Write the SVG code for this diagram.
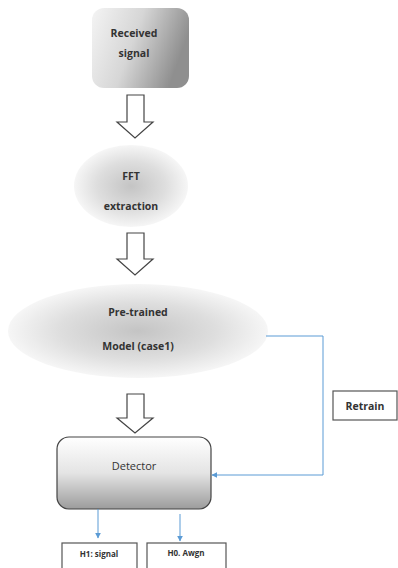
<svg xmlns="http://www.w3.org/2000/svg" width="398" height="568" viewBox="0 0 398 568">
<defs>
<linearGradient id="gRecv" x1="0" y1="0" x2="1" y2="0.3">
<stop offset="0" stop-color="#f4f4f4"/>
<stop offset="0.5" stop-color="#d6d6d6"/>
<stop offset="1" stop-color="#8f8f8f"/>
</linearGradient>
<radialGradient id="gEll" cx="0.5" cy="0.5" r="0.5">
<stop offset="0" stop-color="#c4c4c4"/>
<stop offset="0.6" stop-color="#dedede"/>
<stop offset="1" stop-color="#f6f6f6"/>
</radialGradient>
<linearGradient id="gDet" x1="0" y1="0" x2="0" y2="1">
<stop offset="0" stop-color="#ffffff"/>
<stop offset="0.5" stop-color="#e4e4e4"/>
<stop offset="1" stop-color="#9c9c9c"/>
</linearGradient>
<marker id="ah" viewBox="0 0 10 10" refX="9" refY="5" markerWidth="6" markerHeight="6" orient="auto" markerUnits="userSpaceOnUse">
<path d="M0,0 L10,5 L0,10 z" fill="#5b9bd5"/>
</marker>
</defs>
<style>
.t{font-family:"Open Sans","Noto Sans",sans-serif;font-size:10.5px;font-weight:bold;fill:#333;text-anchor:middle}
.tn{font-family:"Open Sans","Noto Sans",sans-serif;font-size:11px;fill:#333;text-anchor:middle}
.ts{font-family:"Open Sans","Noto Sans",sans-serif;font-size:8px;font-weight:bold;fill:#333;text-anchor:middle}
.blk{fill:#fff;stroke:#555;stroke-width:1.2}
.bigarrow{fill:#fff;stroke:#444;stroke-width:1.2}
.conn{fill:none;stroke:#5b9bd5;stroke-width:1}
</style>
<g id="received">
<rect x="92" y="8" width="97" height="80" rx="12" fill="url(#gRecv)"/>
<text class="t" x="134" y="37">Received</text>
<text class="t" x="134" y="57">signal</text>
</g>
<g id="arrow1">
<path class="bigarrow" d="M127,95 H144 V122 H153 L135,138 L117,122 H127 Z"/>
</g>
<g id="fft">
<ellipse cx="131" cy="186" rx="57" ry="41" fill="url(#gEll)"/>
<text class="t" x="131" y="180">FFT</text>
<text class="t" x="131" y="210">extraction</text>
</g>
<g id="arrow2">
<path class="bigarrow" d="M127,233 H144 V259 H153 L135,275 L117,259 H127 Z"/>
</g>
<g id="pretrained">
<ellipse cx="138" cy="331" rx="130" ry="47" fill="url(#gEll)"/>
<text class="t" x="138" y="316">Pre-trained</text>
<text class="t" x="138" y="350">Model (case1)</text>
</g>
<g id="arrow3">
<path class="bigarrow" d="M127,394 H144 V418 H153 L135,433 L117,418 H127 Z"/>
</g>
<g id="detector">
<rect x="57" y="437" width="154" height="72" rx="12" fill="url(#gDet)" stroke="#444" stroke-width="1.2"/>
<text class="tn" x="134" y="470">Detector</text>
</g>
<g id="retrain">
<rect class="blk" x="333" y="391" width="64" height="29"/>
<text class="t" x="365" y="410">Retrain</text>
</g>
<g id="h1">
<rect class="blk" x="62" y="543" width="75" height="30"/>
<text class="ts" x="99" y="557">H1: signal</text>
</g>
<g id="h0">
<rect class="blk" x="147" y="543" width="79" height="30"/>
<text class="ts" x="186" y="556">H0. Awgn</text>
</g>
<g id="connectors">
<path class="conn" d="M266,336 H323 V475 H212" marker-end="url(#ah)"/>
<path class="conn" d="M98,509 V538" marker-end="url(#ah)"/>
<path class="conn" d="M180,514 V541" marker-end="url(#ah)"/>
</g>
</svg>
